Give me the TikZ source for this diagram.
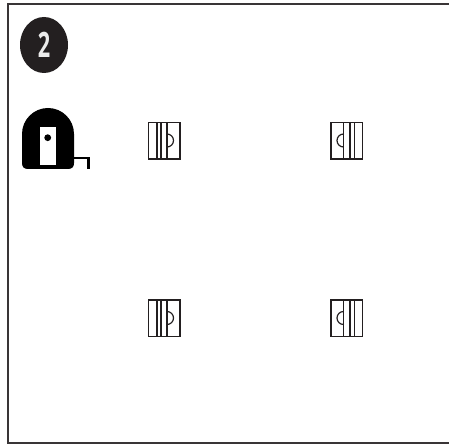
\documentclass[tikz,border=0pt]{standalone}
\usepackage{fontspec}
\setmainfont{Open Sans}
\usetikzlibrary{shapes.geometric}
\definecolor{ink}{HTML}{231F20}
\tikzset{
 frameline/.style={draw=ink!90,line width=2.4pt},
 thinline/.style={draw=ink,line width=1.2pt},
 badge/.style={ellipse,fill=ink,text=white!92!black,minimum width=48bp,minimum height=56bp,inner sep=0pt,font=\fontsize{35bp}{37bp}\selectfont\bfseries}
}
\newcommand{\rightwin}[2]{%
 \begin{scope}[shift={(#1,#2)}]
  \draw[thinline] (0,0) rectangle (31.5,36.5);
  \draw[thinline] (8.5,0)--(8.5,36.5) (12.5,0)--(12.5,36.5) (18.5,0)--(18.5,36.5);
  \draw[thinline] (18.5,11.5) arc[start angle=-90,end angle=90,radius=6.5];
 \end{scope}}
\newcommand{\leftwin}[2]{%
 \begin{scope}[shift={(#1,#2)}]
  \draw[thinline] (0,0) rectangle (31.5,36.5);
  \draw[thinline] (12.5,0)--(12.5,36.5) (19,0)--(19,36.5) (23.3,0)--(23.3,36.5);
  \draw[thinline] (12.5,11.5) arc[start angle=-90,end angle=-270,radius=6.5];
 \end{scope}}
\begin{document}
\begin{tikzpicture}[x=1bp,y=-1bp]
\useasboundingbox (0,0) rectangle (449,445);
\fill[white] (0,0) rectangle (449,445);
\draw[frameline] (449,4) -- (8,4) -- (8,443) -- (449,443);
\node[badge] (num) at (44,45) {\scalebox{0.62}[1]{2}};
% tape measure
\fill[black] (22,134) arc[start angle=180,end angle=360,x radius=26,y radius=26] -- (74,163) .. controls (74,167) and (72,169) .. (68,169) -- (28,169) .. controls (24,169) and (22,167) .. (22,163) -- cycle;
\fill[white] (39.5,127) rectangle (56,165);
\fill[black] (47.7,137.7) circle (3.4);
\draw[black,line width=2.8pt] (72,158) -- (88.5,158) -- (88.5,169);
\rightwin{148.5}{122.5}
\leftwin{331}{122.5}
\rightwin{148.5}{300}
\leftwin{331}{300}
\end{tikzpicture}
\end{document}
